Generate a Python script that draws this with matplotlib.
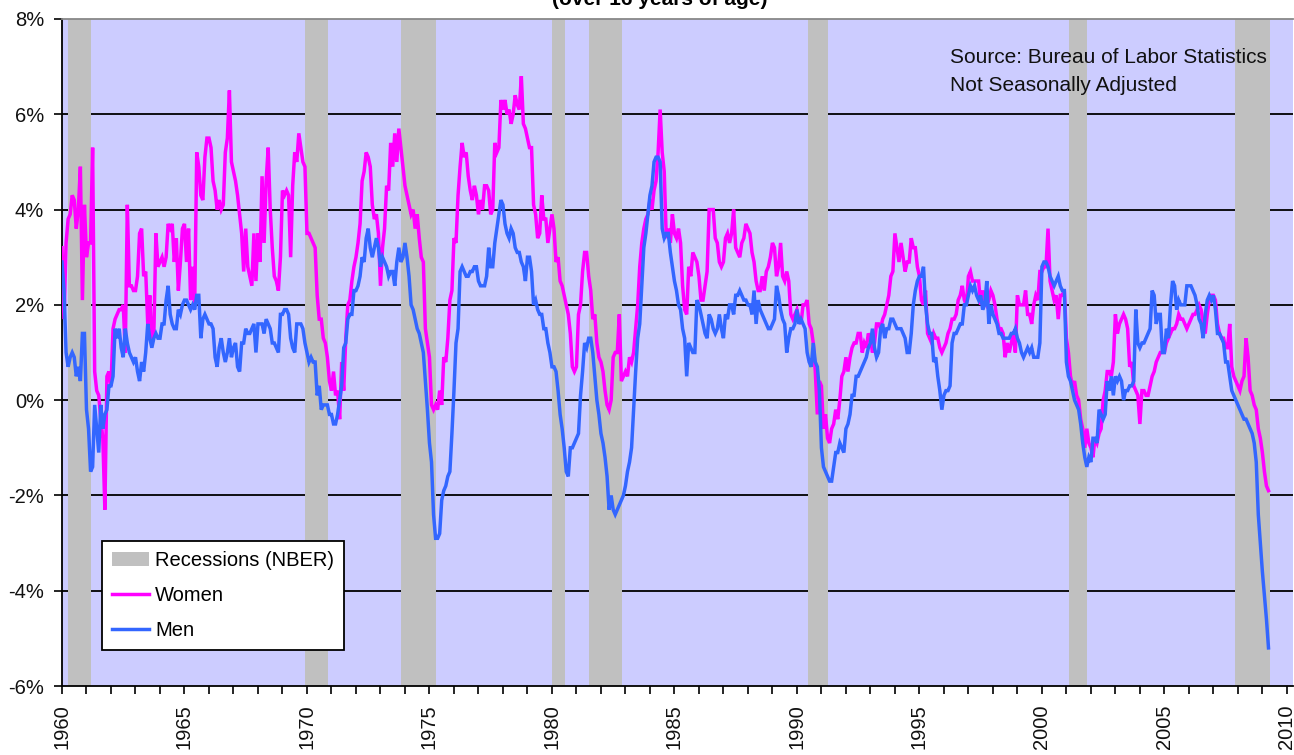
import numpy as np
import matplotlib
matplotlib.use("Agg")
import matplotlib.pyplot as plt
from matplotlib.patches import Patch
from matplotlib.lines import Line2D

plt.rcParams['font.family'] = ['Liberation Sans', 'DejaVu Sans']

# Year-over-year % change in employment, monthly, Jan 1960 onward (one row per year)
women = [
    3.2, 1.7, 3.3, 3.8, 3.9, 4.3, 4.2, 3.6, 4.0, 4.9, 2.1, 4.1,      # 1960
    3.0, 3.3, 3.3, 5.3, 0.6, 0.2, 0.1, -0.4, -0.8, -2.3, 0.5, 0.6,   # 1961
    0.3, 1.5, 1.7, 1.8, 1.9, 1.9, 2.0, 1.0, 4.1, 2.4, 2.4, 2.3,      # 1962
    2.3, 2.6, 3.5, 3.6, 2.6, 2.7, 1.6, 2.2, 1.2, 1.4, 3.5, 2.8,      # 1963
    2.9, 3.0, 2.8, 3.0, 3.7, 3.6, 3.7, 2.9, 3.4, 2.3, 2.9, 3.6,      # 1964
    3.7, 2.9, 3.6, 2.1, 2.8, 2.0, 5.2, 4.9, 4.3, 4.2, 5.1, 5.5,      # 1965
    5.5, 5.3, 4.6, 4.4, 4.0, 4.2, 4.0, 4.1, 5.2, 5.5, 6.5, 5.0,      # 1966
    4.8, 4.6, 4.3, 3.9, 3.5, 2.7, 3.6, 2.8, 2.6, 2.4, 3.5, 2.5,      # 1967
    3.5, 2.9, 4.7, 3.3, 4.6, 5.3, 4.0, 3.2, 2.6, 2.5, 2.3, 3.0,      # 1968
    4.4, 4.3, 4.4, 4.3, 3.0, 4.5, 5.2, 5.0, 5.6, 5.3, 5.0, 4.9,      # 1969
    3.5, 3.5, 3.4, 3.3, 3.2, 2.2, 1.7, 1.7, 1.3, 1.2, 0.9, 0.4,      # 1970
    0.2, 0.6, 0.1, 0.2, -0.4, 0.8, 0.2, 1.3, 2.0, 2.1, 2.5, 2.8,     # 1971
    3.0, 3.3, 3.7, 4.6, 4.8, 5.2, 5.1, 4.9, 4.1, 3.8, 3.9, 3.5,      # 1972
    2.4, 3.2, 3.6, 4.5, 4.4, 5.4, 4.9, 5.6, 5.0, 5.7, 5.3, 4.9,      # 1973
    4.5, 4.3, 4.1, 3.9, 4.0, 3.6, 3.9, 3.4, 3.0, 2.9, 1.5, 1.2,      # 1974
    0.9, -0.1, -0.2, -0.1, -0.2, 0.2, -0.1, 0.9, 0.8, 1.3, 2.1, 2.3, # 1975
    3.4, 3.3, 4.3, 4.9, 5.4, 5.1, 5.2, 4.7, 4.4, 4.2, 4.5, 4.3,      # 1976
    3.9, 4.2, 4.0, 4.5, 4.5, 4.4, 3.9, 4.0, 5.4, 5.2, 5.3, 6.3,      # 1977
    6.1, 6.3, 6.0, 6.1, 5.8, 6.0, 6.4, 6.2, 6.1, 6.8, 5.8, 5.7,      # 1978
    5.5, 5.3, 5.3, 4.1, 3.9, 3.4, 3.5, 4.3, 3.8, 3.8, 3.3, 3.6,      # 1979
    3.9, 3.6, 2.9, 3.0, 2.5, 2.4, 2.2, 2.0, 1.8, 1.4, 0.7, 0.6,      # 1980
    0.7, 1.8, 2.0, 2.7, 3.1, 3.1, 2.6, 2.3, 1.7, 1.8, 1.2, 0.9,      # 1981
    0.8, 0.6, 0.2, -0.1, -0.2, 0.0, 0.9, 1.0, 1.0, 1.8, 0.4, 0.5,    # 1982
    0.6, 0.5, 0.9, 0.8, 1.0, 1.5, 2.0, 2.8, 3.3, 3.6, 3.8, 3.9,      # 1983
    4.2, 4.0, 4.4, 4.6, 5.2, 6.1, 5.2, 4.8, 3.4, 3.6, 3.3, 3.9,      # 1984
    3.5, 3.4, 3.6, 3.3, 2.4, 1.9, 1.8, 2.8, 2.6, 3.1, 3.0, 2.9,      # 1985
    2.6, 2.1, 2.1, 2.4, 2.7, 4.0, 4.0, 4.0, 3.4, 3.3, 2.9, 2.8,      # 1986
    2.9, 3.4, 3.5, 3.3, 3.5, 4.0, 3.2, 3.1, 3.0, 3.3, 3.4, 3.7,      # 1987
    3.6, 3.5, 3.1, 2.9, 2.5, 2.3, 2.3, 2.6, 2.3, 2.7, 2.8, 3.0,      # 1988
    3.3, 3.2, 2.6, 2.8, 3.3, 2.6, 2.5, 2.7, 2.5, 1.8, 1.7, 1.8,      # 1989
    1.9, 1.7, 1.6, 2.0, 2.0, 2.1, 1.6, 1.5, 1.2, 0.6, -0.3, 0.4,     # 1990
    0.3, -0.6, -0.3, -0.8, -0.9, -0.6, -0.5, -0.2, -0.4, 0.0, 0.5, 0.6,  # 1991
    0.9, 0.6, 0.9, 1.1, 1.2, 1.2, 1.4, 1.4, 1.0, 1.2, 1.1, 1.4,      # 1992
    1.3, 1.0, 1.2, 1.6, 1.6, 1.5, 1.7, 1.8, 2.0, 2.2, 2.6, 2.7,      # 1993
    3.5, 3.2, 2.9, 3.3, 3.0, 2.7, 2.9, 2.9, 3.4, 3.2, 3.2, 2.8,      # 1994
    2.6, 2.1, 2.0, 2.3, 1.4, 1.3, 1.2, 1.4, 1.3, 1.3, 1.1, 1.0,      # 1995
    1.1, 1.2, 1.4, 1.5, 1.7, 1.7, 1.8, 2.1, 2.2, 2.4, 2.1, 2.0,      # 1996
    2.6, 2.7, 2.5, 2.5, 2.5, 2.5, 2.0, 2.3, 2.1, 2.0, 2.1, 2.3,      # 1997
    2.2, 2.0, 1.7, 1.5, 1.5, 1.4, 0.9, 1.2, 1.0, 1.2, 1.4, 1.0,      # 1998
    2.2, 2.0, 2.0, 2.0, 2.3, 1.8, 1.8, 1.6, 2.0, 2.2, 2.1, 2.7,      # 1999
    2.7, 2.8, 2.8, 3.6, 2.5, 2.3, 2.1, 2.2, 1.7, 2.2, 2.2, 2.3,      # 2000
    1.3, 1.0, 0.5, 0.3, 0.4, 0.1, 0.0, -0.4, -0.6, -1.0, -0.6, -0.9, # 2001
    -1.0, -1.2, -0.8, -0.9, -0.7, -0.6, 0.0, 0.2, 0.6, 0.6, 0.5, 0.8,  # 2002
    1.8, 1.4, 1.6, 1.7, 1.8, 1.7, 1.5, 0.7, 0.8, 0.3, 0.2, 0.1,      # 2003
    -0.5, 0.2, 0.2, 0.1, 0.1, 0.3, 0.5, 0.6, 0.8, 0.9, 1.0, 1.0,     # 2004
    1.0, 1.2, 1.3, 1.4, 1.5, 1.5, 1.6, 1.8, 1.7, 1.7, 1.6, 1.5,      # 2005
    1.6, 1.7, 1.8, 1.8, 1.9, 2.0, 1.9, 1.6, 1.4, 1.8, 2.1, 2.2,      # 2006
    2.2, 2.1, 1.6, 1.4, 1.3, 1.3, 1.1, 1.1, 1.6, 0.7, 0.5, 0.4,      # 2007
    0.3, 0.2, 0.4, 0.5, 1.3, 0.9, 0.2, 0.1, -0.1, -0.2, -0.6, -0.8,  # 2008
    -1.1, -1.5, -1.8, -1.9,                                          # 2009
]

men = [
    2.9, 2.3, 1.0, 0.7, 0.9, 1.0, 0.9, 0.5, 0.7, 0.4, 1.4, 1.4,      # 1960
    -0.2, -0.6, -1.5, -1.4, -0.1, -0.6, -1.1, -0.1, -0.6, -0.3, -0.2, 0.3,  # 1961
    0.3, 0.5, 1.5, 1.3, 1.5, 1.1, 0.9, 1.5, 1.2, 1.0, 0.9, 0.8,      # 1962
    0.9, 0.6, 0.4, 0.8, 0.6, 1.0, 1.6, 1.3, 1.1, 1.3, 1.4, 1.3,      # 1963
    1.3, 1.6, 1.6, 2.1, 2.4, 1.8, 1.6, 1.5, 1.5, 1.9, 1.8, 2.0,      # 1964
    2.1, 2.1, 2.0, 1.9, 2.0, 1.9, 2.2, 2.2, 1.3, 1.7, 1.8, 1.7,      # 1965
    1.6, 1.6, 1.5, 0.9, 0.7, 1.1, 1.3, 1.0, 0.8, 1.0, 1.3, 0.9,      # 1966
    1.1, 1.2, 0.7, 0.6, 1.2, 1.2, 1.5, 1.4, 1.4, 1.5, 1.6, 1.0,      # 1967
    1.6, 1.6, 1.6, 1.4, 1.7, 1.6, 1.5, 1.2, 1.2, 1.1, 1.0, 1.8,      # 1968
    1.8, 1.9, 1.9, 1.8, 1.3, 1.1, 1.0, 1.6, 1.6, 1.6, 1.5, 1.2,      # 1969
    1.0, 0.8, 0.9, 0.8, 0.8, 0.1, 0.3, -0.2, -0.1, -0.1, -0.1, -0.3, # 1970
    -0.3, -0.5, -0.5, -0.3, 0.0, 0.3, 1.1, 1.2, 1.7, 1.8, 1.8, 2.3,  # 1971
    2.3, 2.4, 2.6, 3.0, 2.9, 3.4, 3.6, 3.2, 3.0, 3.2, 3.4, 3.2,      # 1972
    2.8, 3.0, 2.9, 2.8, 2.6, 2.7, 2.7, 2.4, 2.9, 3.2, 2.9, 3.0,      # 1973
    3.3, 3.0, 2.6, 2.0, 1.9, 1.7, 1.5, 1.4, 1.2, 1.0, 0.4, -0.2,     # 1974
    -0.9, -1.3, -2.4, -2.9, -2.9, -2.8, -2.1, -1.9, -1.8, -1.6, -1.5, -0.7,  # 1975
    0.2, 1.2, 1.5, 2.7, 2.8, 2.7, 2.6, 2.6, 2.7, 2.7, 2.8, 2.8,      # 1976
    2.5, 2.4, 2.4, 2.4, 2.6, 3.2, 2.8, 2.8, 3.3, 3.6, 3.9, 4.2,      # 1977
    4.1, 3.7, 3.5, 3.4, 3.6, 3.5, 3.2, 3.1, 3.1, 2.9, 2.8, 2.5,      # 1978
    3.0, 3.0, 2.7, 2.0, 2.1, 1.9, 1.8, 1.8, 1.5, 1.5, 1.2, 1.0,      # 1979
    0.7, 0.7, 0.6, 0.2, -0.3, -0.6, -1.0, -1.5, -1.6, -1.0, -1.0, -0.9,  # 1980
    -0.8, -0.7, 0.1, 0.6, 1.2, 1.1, 1.3, 1.3, 1.0, 0.5, 0.0, -0.3,   # 1981
    -0.7, -0.9, -1.2, -1.6, -2.3, -2.0, -2.3, -2.4, -2.3, -2.2, -2.1, -2.0,  # 1982
    -1.8, -1.5, -1.3, -1.0, -0.2, 0.6, 1.3, 1.6, 2.4, 3.2, 3.5, 3.9, # 1983
    4.3, 4.5, 5.0, 5.1, 5.1, 5.0, 3.6, 3.4, 3.5, 3.5, 3.1, 2.8,      # 1984
    2.5, 2.3, 2.0, 1.9, 1.5, 1.3, 0.5, 1.2, 1.1, 1.0, 1.0, 2.1,      # 1985
    2.0, 1.8, 1.6, 1.4, 1.3, 1.8, 1.7, 1.5, 1.4, 1.5, 1.8, 1.5,      # 1986
    1.3, 1.8, 1.7, 2.0, 2.0, 1.8, 2.2, 2.2, 2.3, 2.2, 2.1, 2.1,      # 1987
    2.0, 2.0, 1.8, 2.3, 1.6, 2.1, 1.9, 1.8, 1.7, 1.6, 1.5, 1.5,      # 1988
    1.6, 1.7, 2.4, 2.2, 1.9, 1.7, 1.6, 1.0, 1.3, 1.5, 1.5, 1.6,      # 1989
    1.9, 1.6, 1.7, 1.6, 1.5, 1.0, 0.8, 0.7, 1.2, 0.8, 0.7, 0.2,      # 1990
    -1.0, -1.4, -1.5, -1.6, -1.7, -1.7, -1.4, -1.1, -1.1, -0.9, -1.0, -1.1,  # 1991
    -0.6, -0.5, -0.3, 0.1, 0.1, 0.5, 0.5, 0.6, 0.7, 0.8, 0.9, 1.1,   # 1992
    1.2, 1.5, 1.1, 0.9, 1.0, 1.5, 1.6, 1.3, 1.5, 1.5, 1.7, 1.7,      # 1993
    1.6, 1.5, 1.5, 1.5, 1.4, 1.3, 1.0, 1.0, 1.4, 2.0, 2.3, 2.5,      # 1994
    2.6, 2.6, 2.8, 2.0, 1.6, 1.4, 1.4, 0.8, 0.9, 0.5, 0.2, -0.2,     # 1995
    0.1, 0.2, 0.2, 0.3, 1.2, 1.4, 1.4, 1.5, 1.6, 1.6, 2.0, 2.0,      # 1996
    2.2, 2.4, 2.3, 2.4, 2.2, 2.1, 2.2, 1.9, 2.0, 2.5, 1.6, 2.0,      # 1997
    1.8, 1.7, 1.6, 1.4, 1.4, 1.3, 1.3, 1.3, 1.3, 1.4, 1.4, 1.5,      # 1998
    1.3, 1.2, 1.0, 0.9, 1.0, 1.1, 1.0, 1.1, 0.9, 0.9, 0.9, 1.2,      # 1999
    2.8, 2.9, 2.9, 2.8, 2.6, 2.5, 2.4, 2.5, 2.6, 2.4, 2.3, 2.3,      # 2000
    0.8, 0.5, 0.4, 0.2, 0.0, -0.1, -0.2, -0.5, -0.9, -1.2, -1.4, -1.2,  # 2001
    -1.3, -0.8, -0.8, -0.9, -0.2, -0.3, -0.4, -0.3, 0.4, 0.2, 0.5, 0.1,  # 2002
    0.5, 0.4, 0.5, 0.4, 0.0, 0.2, 0.2, 0.3, 0.3, 0.4, 1.9, 1.2,      # 2003
    1.1, 1.2, 1.2, 1.3, 1.4, 1.5, 2.3, 2.2, 1.6, 1.8, 1.8, 1.0,      # 2004
    1.0, 1.5, 1.3, 2.0, 2.5, 2.4, 1.9, 2.1, 2.0, 2.0, 2.0, 2.4,      # 2005
    2.4, 2.4, 2.3, 2.2, 2.0, 1.7, 1.6, 1.3, 1.8, 2.1, 2.2, 2.1,      # 2006
    2.2, 1.9, 1.4, 1.4, 1.3, 1.2, 0.8, 0.8, 0.5, 0.2, 0.1, 0.0,      # 2007
    -0.1, -0.2, -0.3, -0.4, -0.4, -0.5, -0.6, -0.7, -0.9, -1.3, -2.4, -3.0,  # 2008
    -3.6, -4.1, -4.6, -5.2,                                          # 2009
]

# NBER recession periods (decimal years)
rec_start = [1960.25, 1969.92, 1973.84, 1980.00, 1981.50, 1990.46, 2001.12, 2007.90]
rec_end = [1961.18, 1970.86, 1975.25, 1980.53, 1982.87, 1991.25, 2001.84, 2009.33]

y_ticks = [-6, -4, -2, 0, 2, 4, 6, 8]
x_major = [1960, 1965, 1970, 1975, 1980, 1985, 1990, 1995, 2000, 2005, 2010]

months = np.arange(len(women))
t = 1960 + months / 12.0

FS = 14.5
W, H = 1294, 755
fig = plt.figure(figsize=(W / 100, H / 100), dpi=100)
ax = fig.add_axes([62 / W, 1 - 686 / H, (1293 - 62) / W, (686 - 19) / H])
ax.set_facecolor('#CCCCFF')

for y in y_ticks[1:-1]:
    ax.axhline(y, color='black', lw=1.3, zorder=1)

for s, e in zip(rec_start, rec_end):
    ax.axvspan(s, e, color='#C0C0C0', lw=0, zorder=2)

ax.plot(t, women, color='#FF00FF', lw=2.5, zorder=3, solid_joinstyle='miter')
ax.plot(t, men, color='#3366FF', lw=2.5, zorder=4, solid_joinstyle='miter')

ax.set_xlim(1960, 2010.25)
ax.set_ylim(-6, 8)
ax.set_yticks(y_ticks)
ax.set_yticklabels([f"{v}%" for v in y_ticks])
ax.set_xticks(x_major)
ax.set_xticklabels([str(v) for v in x_major], rotation=90)
ax.set_xticks(np.arange(1960, 2011), minor=True)
ax.tick_params(axis='both', which='both', direction='out', length=6, width=1.2,
               color='black', labelsize=FS, pad=7, labelcolor='#111111')

for side in ['left', 'bottom']:
    ax.spines[side].set_color('black')
    ax.spines[side].set_linewidth(1.3)
ax.spines['top'].set_color('#888888')
ax.spines['top'].set_linewidth(1.3)
ax.spines['right'].set_visible(False)

handles = [
    Patch(facecolor='#C0C0C0', edgecolor='none'),
    Line2D([], [], color='#FF00FF', lw=2.5),
    Line2D([], [], color='#3366FF', lw=2.5),
]
leg = ax.legend(handles, ['Recessions (NBER)', 'Women', 'Men'],
                loc='lower left', bbox_to_anchor=(0.0325, 0.054), borderaxespad=0,
                fontsize=FS, frameon=True, fancybox=False, framealpha=1,
                edgecolor='black', handlelength=1.85, handleheight=0.7,
                handletextpad=0.3, labelspacing=0.78, borderpad=0.5)
leg.get_frame().set_linewidth(1.3)
leg.set_zorder(6)

fig.text(950 / W, 1 - 48 / H, 'Source: Bureau of Labor Statistics', fontsize=15,
         ha='left', va='top', color='#111111')
fig.text(950 / W, 1 - 76 / H, 'Not Seasonally Adjusted', fontsize=15,
         ha='left', va='top', color='#111111')

fig.text(660 / W, 1 - 5 / H, '(over 16 years of age)', fontsize=15, fontweight='bold',
         ha='center', va='baseline', color='black')

fig.savefig('out.png', dpi=100)
